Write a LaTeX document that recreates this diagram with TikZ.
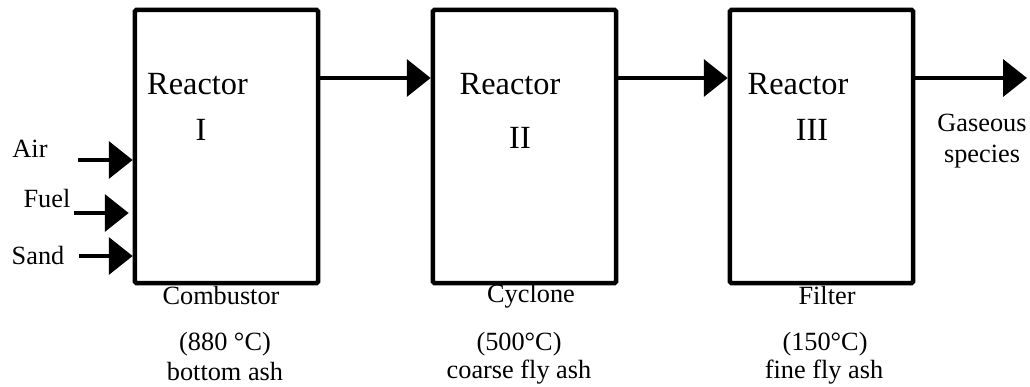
\documentclass[tikz,border=0pt]{standalone}
\usepackage{fontspec}
\setmainfont{Liberation Serif}
\usetikzlibrary{arrows.meta}
\tikzset{
	reactor/.style={draw, line width=3.2pt, rounded corners=1pt, minimum width=4.575cm, minimum height=6.825cm, inner sep=0pt},
	flow/.style={line width=3.4pt, -{Triangle[length=17pt, width=26pt]}},
	bigtext/.style={font=\fontsize{23}{27}\selectfont, inner sep=0pt},
	smalltext/.style={font=\fontsize{18.7}{22}\selectfont, inner sep=0pt, align=center}
}
\begin{document}
\begin{tikzpicture}[x=0.025cm, y=-0.025cm]
	% Boxes, labels and flows:
	\useasboundingbox (0, 0) rectangle (1030, 387);
	\node[reactor] (r1) at (226.5, 146.5) {};
	\node[reactor] (r2) at (524.5, 146.5) {};
	\node[reactor] (r3) at (821.5, 146.5) {};
	\node[bigtext] (r1name) at (197.5, 84) {Reactor};
	\node[bigtext] (r1num) at (201, 130) {I};
	\node[bigtext] (r2name) at (510, 84) {Reactor};
	\node[bigtext] (r2num) at (520, 138) {II};
	\node[bigtext] (r3name) at (798, 84) {Reactor};
	\node[bigtext] (r3num) at (812, 130) {III};
	\node[smalltext] (air) at (30, 149) {Air};
	\node[smalltext] (fuel) at (47, 199) {Fuel};
	\node[smalltext] (sand) at (38, 256) {Sand};
	\node[smalltext] (gas) at (982, 141) {Gaseous\\species};
	\node[smalltext] (comb) at (221, 296) {Combustor};
	\node[smalltext] (combt) at (225, 344) {(880 °C)};
	\node[smalltext] (comba) at (225, 372) {bottom ash};
	\node[smalltext] (cycl) at (531, 296) {Cyclone};
	\node[smalltext] (cyclt) at (519, 344) {(500°C)};
	\node[smalltext] (cycla) at (519, 372) {coarse fly ash};
	\node[smalltext] (filt) at (827, 296) {Filter};
	\node[smalltext] (filtt) at (825, 344) {(150°C)};
	\node[smalltext] (filta) at (824, 372) {fine fly ash};
	\coordinate (airin) at (78, 160);
	\coordinate (fuelin) at (74, 213);
	\coordinate (sandin) at (79, 256);
	\coordinate (gasout) at (1027, 78);
	\draw[flow] (airin) -- (airin -| r1.west);
	\draw[flow, shorten >=0.1cm] (fuelin) -- (fuelin -| r1.west);
	\draw[flow] (sandin) -- (sandin -| r1.west);
	\draw[flow] (r1.east |- gasout) -- (r2.west |- gasout);
	\draw[flow] (r2.east |- gasout) -- (r3.west |- gasout);
	\draw[flow] (r3.east |- gasout) -- (gasout);
\end{tikzpicture}
\end{document}
